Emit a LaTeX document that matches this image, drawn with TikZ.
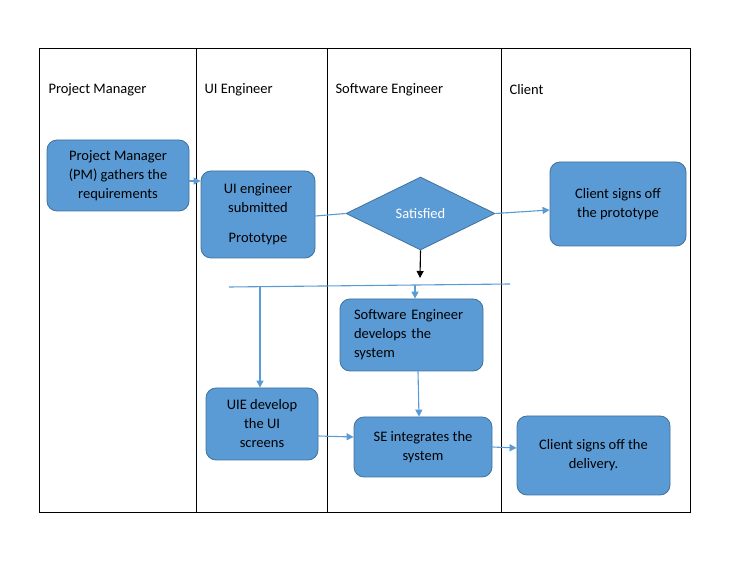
\documentclass[tikz,border=0pt]{standalone}
\usepackage{fontspec}
\setmainfont{Carlito}
\usetikzlibrary{shapes.geometric,arrows.meta}
\definecolor{boxfill}{HTML}{5B9BD5}
\definecolor{boxline}{HTML}{41719C}
\begin{document}
\begin{tikzpicture}[x=1pt,y=-1pt,
    process/.style ={rectangle, rounded corners=10pt, draw=boxline, fill=boxfill, thick, inner sep=0pt, align=center, font=\fontsize{14.5}{19}\selectfont},
    decision/.style ={diamond, draw=boxline, fill=boxfill, thick, inner sep=0pt, minimum width=149pt, minimum height=73pt, text=white, font=\fontsize{14.5}{19}\selectfont},
    lane/.style ={anchor=west, font=\fontsize{14.5}{19}\selectfont},
    flow/.style ={draw=boxfill, line width=1.1pt, -{Triangle[length=7pt,width=7pt]}}]
   \useasboundingbox (0,0) rectangle (729,569);
   % swimlanes
   \draw[line width=0.9pt] (39,48) rectangle (690,512);
   \draw[line width=0.9pt] (196,48) -- (196,512);
   \draw[line width=0.9pt] (327,48) -- (327,512);
   \draw[line width=0.9pt] (501,48) -- (501,512);
   \node[lane] (pmlane)  at (45,90)  {Project Manager};
   \node[lane] (uilane)  at (201,90)  {UI Engineer};
   \node[lane] (selane)  at (332,90)  {Software Engineer};
   \node[lane] (cllane)  at (506,90)  {Client};
   % boxes
   \node[process, minimum width=142pt, minimum height=71pt] (pm)  at (118,175.5)  {Project Manager\\(PM) gathers the\\requirements};
   \node[process, minimum width=114pt, minimum height=87pt] (ui)  at (258,214.5)  {UI engineer\\submitted\\[11pt]Prototype};
   \node[decision] (sat)  at (420.5,213.5)  {Satisfied};
   \node[process, minimum width=136pt, minimum height=84pt] (proto)  at (618,204)  {Client signs off\\the prototype};
   \node[process, minimum width=143pt, minimum height=72pt, align=left, text width=115pt] (dev)  at (411.5,335)  {Software Engineer\\develops the\\system};
   \node[process, minimum width=112pt, minimum height=72pt] (uie)  at (262,424)  {UIE develop\\the UI\\screens};
   \node[process, minimum width=138pt, minimum height=60pt] (integ)  at (423,447)  {SE integrates the\\system};
   \node[process, minimum width=153pt, minimum height=79pt] (deliv)  at (593.5,455.5)  {Client signs off the\\delivery.};
   % split line
   \coordinate (splitl) at (229,287);
   \coordinate (splitr) at (510,284);
   \coordinate (tolui) at (260,287);
   \coordinate (tose) at (415,285);
   \draw[draw=boxfill, line width=1.1pt] (splitl) to (splitr);
   % connectors
   \draw[flow] (pm.east |- 0,181) to (ui.west |- 0,181);
   \draw[draw=boxfill, line width=1.1pt] (ui.east |- 0,216) to (sat.west);
   \draw[flow] (sat.east) to (proto.west |- 0,210);
   \draw[line width=1.1pt, -{Triangle[length=7pt,width=7pt]}] (sat.south) to (420,278);
   \draw[flow] (tolui) to (uie.north -| tolui);
   \draw[flow] (tose) to (dev.north -| tose);
   \draw[flow] (dev.south -| 418,0) to (integ.north -| 419,0);
   \draw[flow] (uie.east |- 0,436) to (integ.west |- 0,437);
   \draw[flow] (integ.east |- 0,447) to (deliv.west |- 0,448);
 \end{tikzpicture}
\end{document}
